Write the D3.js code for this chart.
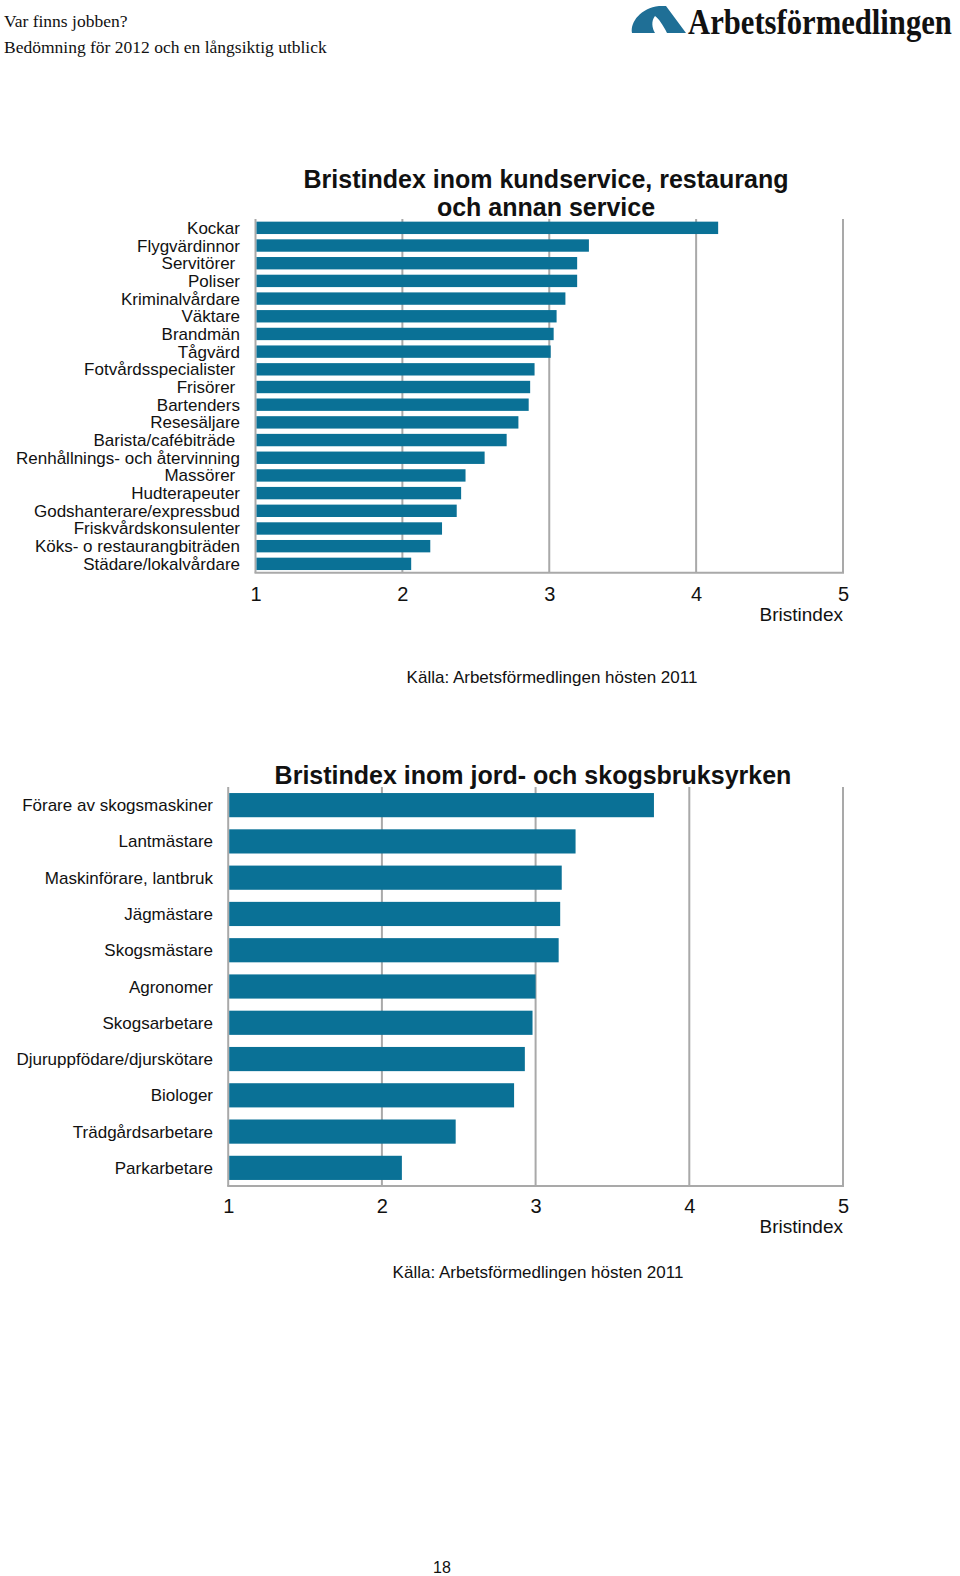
<!DOCTYPE html>
<html><head><meta charset="utf-8">
<script src="https://cdn.jsdelivr.net/npm/d3@7/dist/d3.min.js"></script>
<style>
body{margin:0;background:#fff;}
svg text{font-family:"Liberation Sans",Arial,sans-serif;fill:#111;}
</style></head>
<body><svg id="c" width="960" height="1576"></svg>
<script>
const cats1 = ["Kockar","Flygvärdinnor","Servitörer ","Poliser","Kriminalvårdare","Väktare","Brandmän","Tågvärd","Fotvårdsspecialister ","Frisörer ","Bartenders","Resesäljare","Barista/cafébiträde ","Renhållnings- och återvinning","Massörer ","Hudterapeuter","Godshanterare/expressbud","Friskvårdskonsulenter","Köks- o restaurangbiträden","Städare/lokalvårdare"];
const vals1 = [4.15,3.27,3.19,3.19,3.11,3.05,3.03,3.01,2.90,2.87,2.86,2.79,2.71,2.56,2.43,2.40,2.37,2.27,2.19,2.06];
const cats2 = ["Förare av skogsmaskiner","Lantmästare","Maskinförare, lantbruk","Jägmästare","Skogsmästare","Agronomer","Skogsarbetare","Djuruppfödare/djurskötare","Biologer","Trädgårdsarbetare","Parkarbetare"];
const vals2 = [3.77,3.26,3.17,3.16,3.15,3.00,2.98,2.93,2.86,2.48,2.13];
const ticks = [1,2,3,4,5];
const title1 = ["Bristindex inom kundservice, restaurang","och annan service"];
const title2 = ["Bristindex inom jord- och skogsbruksyrken"];
const axisTitle = "Bristindex";
const source = "Källa: Arbetsförmedlingen hösten 2011";

const svg = d3.select("#c");
const BAR = "#0a7196", GRID = "#a9a9a9";

// header
svg.append("text").attr("x",4).attr("y",27).style("font-family","'Liberation Serif','DejaVu Serif',serif").style("font-size","17.5px").text("Var finns jobben?");
svg.append("text").attr("x",4).attr("y",53).style("font-family","'Liberation Serif','DejaVu Serif',serif").style("font-size","17.5px").text("Bedömning för 2012 och en långsiktig utblick");
// logo
svg.append("path").attr("d","M632,33 C630,22 641,8 659,6 L666,6 L686,33 L667,33 C663,25 659,19 655,16 C651,21 652,28 655,33 Z").attr("fill","#1f6f96");
const lg = svg.append("g");
const lt = lg.append("text").attr("x",0).attr("y",0)
  .style("font-family","'Liberation Serif','DejaVu Serif',serif").style("font-weight","bold").style("font-size","36px").text("Arbetsförmedlingen");
const natW = lt.node().getComputedTextLength();
const targetW = 264;
const fs = 36*targetW/natW;
lt.style("font-size",fs+"px");
lg.attr("transform",`translate(688,34) scale(1,${36/fs})`);

function chart(cfg){
  const x = d3.scaleLinear().domain([1,5]).range([cfg.x0,cfg.x1]);
  const y = d3.scaleBand().domain(cfg.cats).range([cfg.y0,cfg.y1]).paddingInner(cfg.pi).paddingOuter(cfg.po);
  const g = svg.append("g");
  cfg.title.forEach((t,i)=>g.append("text").attr("x",cfg.tx).attr("y",cfg.ty+i*28).attr("text-anchor","middle")
    .style("font-size","25px").style("font-weight","bold").text(t));
  g.selectAll(".gl").data(ticks).join("line").attr("x1",d=>x(d)).attr("x2",d=>x(d))
    .attr("y1",cfg.y0).attr("y2",cfg.y1).attr("stroke",GRID).attr("stroke-width",2);
  g.append("line").attr("x1",x(1)-1).attr("x2",x(5)+1).attr("y1",cfg.y1).attr("y2",cfg.y1).attr("stroke",GRID).attr("stroke-width",2);
  g.selectAll(".b").data(cfg.cats).join("rect").attr("x",x(1)+1).attr("y",d=>y(d))
    .attr("width",(d,i)=>x(cfg.vals[i])-x(1)-1).attr("height",y.bandwidth()).attr("fill",BAR);
  g.selectAll(".l").data(cfg.cats).join("text").attr("x",cfg.lx).attr("y",d=>y(d)+y.bandwidth()/2+6)
    .attr("text-anchor","end").style("font-size","17px").style("white-space","pre").text(d=>d);
  const ax = d3.axisBottom(x).tickValues(ticks).tickSize(0).tickPadding(0).tickFormat(d3.format("d"));
  const ag = g.append("g").attr("transform",`translate(0,${cfg.tickY})`).call(ax);
  ag.select(".domain").remove();
  ag.selectAll("text").attr("dy",0).attr("y",0).style("font-size","20px").style("font-family","'Liberation Sans',Arial,sans-serif").attr("fill","#111");
  g.append("text").attr("x",x(5)).attr("y",cfg.tickY+20).attr("text-anchor","end").style("font-size","19px").text(axisTitle);
  g.append("text").attr("x",cfg.sx).attr("y",cfg.sy).attr("text-anchor","middle").style("font-size","17px").text(source);
}

chart({cats:cats1,vals:vals1,title:title1,x0:255.5,x1:843,y0:219,y1:572.7,pi:0.3,po:0.15,
  tx:546,ty:188,lx:240,tickY:601,sx:552,sy:683});
chart({cats:cats2,vals:vals2,title:title2,x0:228.2,x1:843,y0:787,y1:1186,pi:1/3,po:1/6,
  tx:533,ty:784,lx:213,tickY:1213,sx:538,sy:1278});

svg.append("text").attr("x",442).attr("y",1573).attr("text-anchor","middle").style("font-size","16px").text("18");
</script></body></html>
